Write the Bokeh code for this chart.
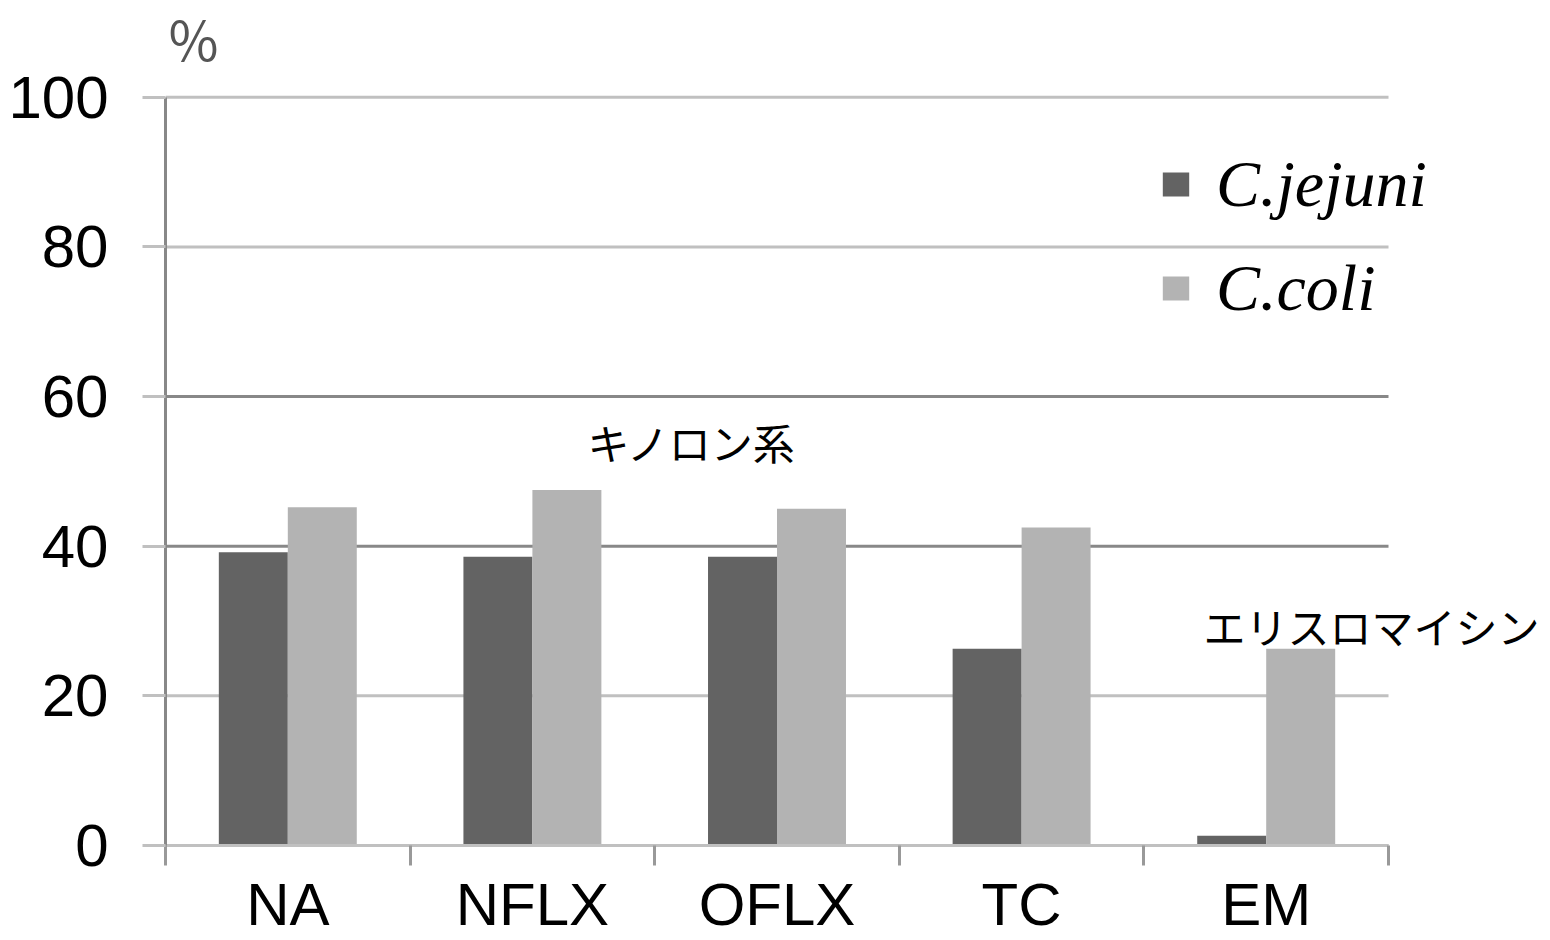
from bokeh.plotting import figure
from bokeh.models import (Range1d, FixedTicker, Legend, LegendItem, Label,
                          ColumnDataSource)
from bokeh.transform import dodge
from bokeh.embed import file_html
from bokeh.resources import INLINE

# ---- data ----
categories = ["NA", "NFLX", "OFLX", "TC", "EM"]
series_names = ["C.jejuni", "C.coli"]
jejuni = [39.2, 38.6, 38.6, 26.3, 1.3]
coli = [45.2, 47.5, 45.0, 42.5, 26.3]
y_ticks = [0, 20, 40, 60, 80, 100]
grid_colors = ["#c0c0c0", "#c0c0c0", "#888888", "#888888", "#c0c0c0", "#c0c0c0"]
unit_label = "％"
group_label_1 = "キノロン系"
group_label_2 = "エリスロマイシン"

n = len(categories)
centers = [i + 0.5 for i in range(n)]
bounds = list(range(n + 1))

p = figure(width=1550, height=940,
           x_range=Range1d(0, 5.65), y_range=Range1d(0, 111.6),
           output_backend="svg", toolbar_location=None,
           min_border_left=165, min_border_right=3,
           min_border_top=10, min_border_bottom=95)
p.outline_line_color = None
p.background_fill_color = "white"
p.border_fill_color = "white"

# grid lines (limited to the category span)
p.xgrid.visible = False
p.ygrid.visible = False
gsrc = ColumnDataSource(dict(x0=[0] * len(y_ticks), x1=[n] * len(y_ticks),
                             y=y_ticks, c=grid_colors))
p.segment(x0="x0", x1="x1", y0="y", y1="y", line_color="c", line_width=3,
          source=gsrc, level="underlay")

src = ColumnDataSource(dict(x=centers, jejuni=jejuni, coli=coli))
r1 = p.vbar(x=dodge("x", -0.141), top="jejuni", width=0.282, source=src,
            fill_color="#636363", line_color=None)
r2 = p.vbar(x=dodge("x", 0.141), top="coli", width=0.282, source=src,
            fill_color="#b3b3b3", line_color=None)

# y axis
ya = p.yaxis[0]
ya.ticker = FixedTicker(ticks=y_ticks)
ya.bounds = (0, 100)
ya.axis_line_color = "#888888"
ya.axis_line_width = 3
ya.major_tick_line_color = "#c0c0c0"
ya.major_tick_line_width = 3
ya.major_tick_out = 23
ya.major_tick_in = 0
ya.minor_tick_line_color = None
ya.major_label_text_font = "Liberation Sans"
ya.major_label_text_font_size = "60px"
ya.major_label_text_color = "black"
ya.major_label_standoff = 34

# x axis
xa = p.xaxis[0]
xa.ticker = FixedTicker(ticks=centers, minor_ticks=bounds)
xa.bounds = (0, n)
xa.major_label_overrides = {c: name for c, name in zip(centers, categories)}
xa.major_tick_line_color = None
xa.major_tick_out = 0
xa.major_tick_in = 0
xa.minor_tick_line_color = "#999999"
xa.minor_tick_line_width = 3
xa.minor_tick_out = 20
xa.minor_tick_in = 0
xa.axis_line_color = "#c0c0c0"
xa.axis_line_width = 3
xa.major_label_text_font = "Liberation Sans"
xa.major_label_text_font_size = "60px"
xa.major_label_text_color = "black"
xa.major_label_standoff = 5

# legend
legend = Legend(items=[LegendItem(label=series_names[0], renderers=[r1]),
                       LegendItem(label=series_names[1], renderers=[r2])],
                location=(994, 519),
                background_fill_alpha=0, border_line_color=None,
                label_text_font="Liberation Serif",
                label_text_font_style="italic",
                label_text_font_size="66px",
                label_text_color="black",
                glyph_width=33, glyph_height=30,
                label_standoff=24, spacing=28, padding=0, margin=0)
p.add_layout(legend)

# annotations
p.add_layout(Label(x=0.004, y=107.8, text=unit_label, text_font="Noto Sans CJK JP",
                   text_font_size="54px", text_color="#555555",
                   text_align="left", text_baseline="middle"))
p.add_layout(Label(x=2.155, y=54.0, text=group_label_1, text_font="Noto Sans CJK JP",
                   text_font_size="42px", text_color="black",
                   text_align="center", text_baseline="middle"))
p.add_layout(Label(x=4.93, y=29.4, text=group_label_2, text_font="Noto Sans CJK JP",
                   text_font_size="42px", text_color="black",
                   text_align="center", text_baseline="middle"))

open("out.html", "w").write(file_html(p, INLINE))
